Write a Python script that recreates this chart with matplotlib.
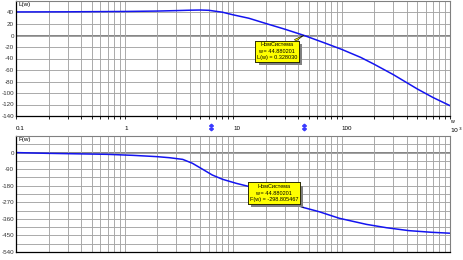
import matplotlib
matplotlib.use("Agg")
import matplotlib.pyplot as plt
import matplotlib.patheffects as pe
from matplotlib.ticker import FixedLocator, NullFormatter

plt.rcParams['font.family'] = ['Liberation Sans', 'DejaVu Sans']

# magnitude L(w), dB
mag_w = [0.1, 0.3, 1, 2, 3, 4, 5, 6, 7, 8, 10, 14, 20, 30, 44.880201, 70, 100, 150, 200, 300, 500, 700, 1000]
mag_L = [41, 41.2, 41.8, 42.5, 43.3, 44, 44.3, 43.8, 42, 40.5, 36, 30, 21, 11, 0.328030, -13, -24, -38, -50, -68, -93, -108, -122]

# phase F(w), deg
ph_w = [0.1, 0.19, 0.69, 1.19, 1.98, 2.61, 3.44, 4.22, 5.26, 6.45, 8.0, 10.7, 14.2, 20, 28, 44.880201,
        62.1, 95.6, 170, 259, 418, 679, 1000]
ph_F = [0, -4, -9.5, -15, -22, -28, -37, -58, -91, -122, -145, -167, -185, -220, -255, -298.805467,
        -321, -357, -390, -408, -424, -433, -438]

marker_w = [6.3, 44.880201]
sel_w = 44.880201
sel_L = 0.328030
sel_F = -298.805467

xticks = [0.1, 1, 10, 100, 1000]
xticklabels = ['0.1', '1', '10', '100', '$10^3$']

fig = plt.figure(figsize=(4.63, 2.6), dpi=100)
ax1 = fig.add_axes([16 / 463, 1 - 116 / 260, 434 / 463, 115 / 260])
ax2 = fig.add_axes([16 / 463, 1 - 252 / 260, 434 / 463, 116 / 260])

blue = '#1414f0'
grid_c = '#a4a4a4'

minor = [m * 10.0 ** e for e in range(-1, 3) for m in range(2, 10)]

for ax in (ax1, ax2):
    ax.set_xscale('log')
    ax.set_xlim(0.1, 1000)
    ax.xaxis.set_major_locator(FixedLocator(xticks))
    ax.xaxis.set_minor_locator(FixedLocator(minor))
    ax.xaxis.set_minor_formatter(NullFormatter())
    ax.grid(True, which='both', axis='x', color=grid_c, lw=0.65)
    ax.grid(True, which='major', axis='y', color=grid_c, lw=0.65)
    ax.tick_params(axis='y', length=0, labelsize=4.5, pad=1.5, labelcolor='#333333')
    for s in ('top', 'right'):
        ax.spines[s].set_color('#808080')
        ax.spines[s].set_linewidth(0.8)
    for s in ('left', 'bottom'):
        ax.spines[s].set_color('black')
        ax.spines[s].set_linewidth(0.9)
    ax.set_axisbelow(True)

# top: magnitude
ax1.plot(mag_w, mag_L, color=blue, lw=1.1)
ax1.set_ylim(-140, 60)
ax1.set_yticks(range(-140, 61, 20))
ax1.set_yticklabels([str(v) if v < 60 else '' for v in range(-140, 61, 20)])
ax1.axhline(0, color='#707070', lw=1.2, zorder=0.5)
ax1.set_xticklabels(xticklabels)
ax1.tick_params(axis='x', which='both', direction='out', length=2, width=0.6, labelsize=4.5, pad=5)
for lbl in ax1.get_xticklabels():
    lbl.set_ha('left')
ax1.text(0.005, 0.99, 'L(w)', transform=ax1.transAxes, fontsize=4.5, va='top', ha='left')
ax1.text(0.999, -0.025, 'w', transform=ax1.transAxes, fontsize=3.8, va='top', ha='left')

# bottom: phase
ax2.plot(ph_w, ph_F, color=blue, lw=1.1)
ax2.set_ylim(-540, 90)
ax2.set_yticks(range(-540, 91, 45), minor=False)
ax2.set_yticklabels([str(v) if (v % 90 == 0 and v < 90) else '' for v in range(-540, 91, 45)])
ax2.axhline(0, color='#707070', lw=1.2, zorder=0.5)
ax2.tick_params(axis='x', which='both', length=0, labelbottom=False)
ax2.text(0.005, 0.99, 'F(w)', transform=ax2.transAxes, fontsize=4.5, va='top', ha='left')

# markers between the panels
tr = ax1.get_xaxis_transform()
for w in marker_w:
    ax1.plot([w], [-0.095], marker=r'$\updownarrow$', color='#3a3aff', ms=4.5, transform=tr, clip_on=False)

# tooltips
box = dict(boxstyle='square,pad=0.3', fc='#ffff00', ec='black', lw=0.5)
arrow = dict(arrowstyle='wedge,tail_width=0.4', fc='#ffff00', ec='black', lw=0.4, shrinkA=0, shrinkB=0)

t1 = ax1.annotate('НомСистема\nw = 44.880201\nL(w) = 0.328030', xy=(sel_w, sel_L), xytext=(25.4, -27.4),
                  fontsize=4, ha='center', va='center', bbox=box, arrowprops=arrow, linespacing=1.35)
t2 = ax2.annotate('НомСистема\nw = 44.880201\nF(w) = -298.805467', xy=(sel_w, sel_F), xytext=(23.8, -219.6),
                  fontsize=4, ha='center', va='center', bbox=box, arrowprops=arrow, linespacing=1.35)
for t in (t1, t2):
    t.get_bbox_patch().set_path_effects([pe.withSimplePatchShadow(offset=(2.5, -2.5), shadow_rgbFace='#808080', alpha=1),
                                         pe.Normal()])

fig.savefig('out.png', dpi=100)
